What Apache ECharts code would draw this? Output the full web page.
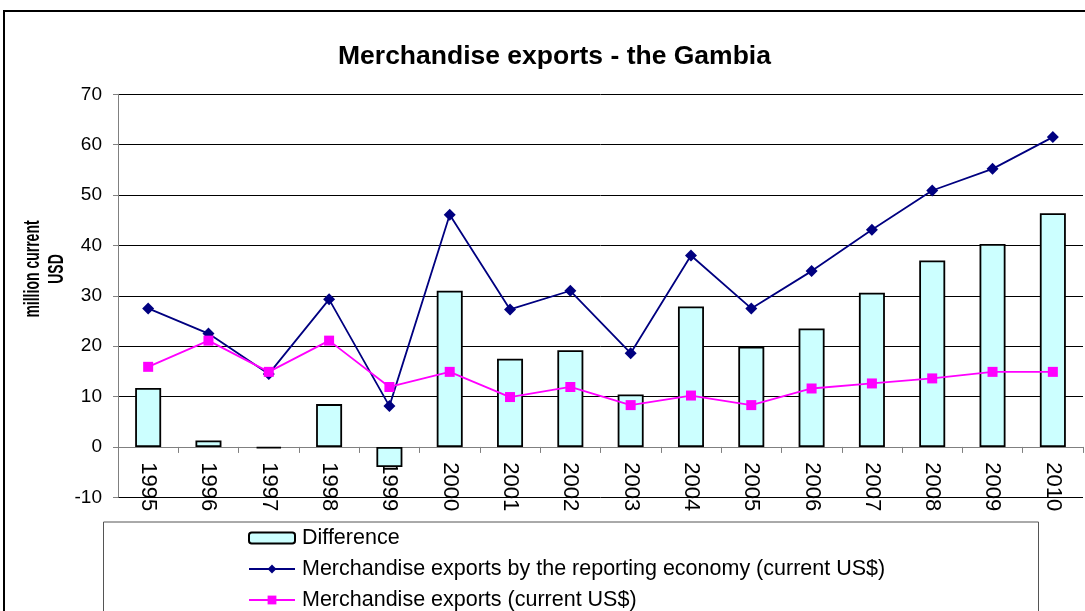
<!DOCTYPE html>
<html>
<head>
<meta charset="utf-8">
<script src="https://cdn.jsdelivr.net/npm/echarts@6/dist/echarts.min.js"></script>
<style>
  html, body { margin: 0; padding: 0; background: #fff; }
  #chart { width: 1085px; height: 611px; }
</style>
</head>
<body>
<div id="chart"></div>
<script>
// values
const years = ['1995', '1996', '1997', '1998', '1999', '2000', '2001', '2002',
  '2003', '2004', '2005', '2006', '2007', '2008', '2009', '2010']
const difference = [11.7, 1.3, -0.3, 8.5, -4.0, 31.0, 17.5, 19.2,
  10.4, 27.9, 19.9, 23.5, 30.6, 37.0, 40.3, 46.4]
const reportingExports = [27.5, 22.5, 14.5, 29.3, 8.1, 46.1, 27.3, 31.0,
  18.6, 38.0, 27.5, 34.9, 43.1, 50.9, 55.2, 61.5]
const merchExports = [15.9, 21.1, 14.9, 21.1, 11.9, 14.9, 9.9, 11.9,
  8.3, 10.2, 8.3, 11.6, 12.6, 13.6, 14.9, 14.9]

const font = "'Liberation Sans', Arial, sans-serif"

const chart = echarts.init(document.getElementById('chart'))

chart.setOption({
  animation: false,
  textStyle: { fontFamily: font },
  title: {
    text: 'Merchandise exports - the Gambia',
    left: 333,
    top: 38,
    textStyle: { fontFamily: font, fontSize: 26.5, fontWeight: 'bold', color: '#000' }
  },
  graphic: [
    { // outer chart frame
      type: 'rect',
      shape: { x: 4, y: 11, width: 1200, height: 700 },
      style: { fill: 'none', stroke: '#000', lineWidth: 2 },
      z: -10
    },
    { // legend box
      type: 'rect',
      shape: { x: 103.5, y: 522, width: 935, height: 120 },
      style: { fill: '#fff', stroke: '#555', lineWidth: 1 },
      z: -5
    },
    { // y axis title, narrow letters like the original
      type: 'text',
      x: 45,
      y: 269,
      rotation: Math.PI / 2,
      scaleY: 1.55,
      style: {
        text: 'million current\nUSD',
        font: 'bold 14px ' + font,
        fill: '#000',
        align: 'center',
        verticalAlign: 'middle',
        lineHeight: 15.5
      }
    }
  ],
  legend: {
    orient: 'vertical',
    left: 248,
    top: 527,
    padding: 0,
    itemWidth: 46,
    itemHeight: 11,
    itemGap: 9,
    textStyle: { fontFamily: font, fontSize: 21.5, color: '#000', padding: [0, 0, 0, 2] },
    data: [
      'Difference',
      'Merchandise exports by the reporting economy (current US$)',
      'Merchandise exports (current US$)'
    ]
  },
  grid: {
    left: 118,
    right: 2,
    top: 94.3,
    bottom: 113.7
  },
  xAxis: {
    type: 'category',
    data: years,
    axisLine: { onZero: true, lineStyle: { color: '#808080', width: 1 } },
    axisTick: { show: true, length: 6, lineStyle: { color: '#808080' } },
    axisLabel: {
      rotate: -90,
      margin: -35,
      fontSize: 22,
      color: '#000',
      fontFamily: font
    },
    splitLine: { show: false }
  },
  yAxis: {
    type: 'value',
    min: -10,
    max: 70,
    interval: 10,
    axisLine: { show: true, lineStyle: { color: '#808080', width: 1 } },
    axisTick: { show: true, length: 5, lineStyle: { color: '#808080' } },
    axisLabel: { fontSize: 19, color: '#000', margin: 16, fontFamily: font },
    splitLine: { show: true, lineStyle: { color: '#000', width: 1 } }
  },
  series: [
    {
      name: 'Difference',
      type: 'bar',
      data: difference,
      barWidth: 26,
      itemStyle: { color: '#CCFFFF', borderColor: '#000', borderWidth: 1.8 }
    },
    {
      name: 'Merchandise exports by the reporting economy (current US$)',
      type: 'line',
      data: reportingExports,
      symbol: 'diamond',
      symbolSize: 12,
      lineStyle: { color: '#000080', width: 1.8 },
      itemStyle: { color: '#000080' }
    },
    {
      name: 'Merchandise exports (current US$)',
      type: 'line',
      data: merchExports,
      symbol: 'rect',
      symbolSize: 10,
      lineStyle: { color: '#FF00FF', width: 1.8 },
      itemStyle: { color: '#FF00FF' }
    }
  ]
})
</script>
</body>
</html>
